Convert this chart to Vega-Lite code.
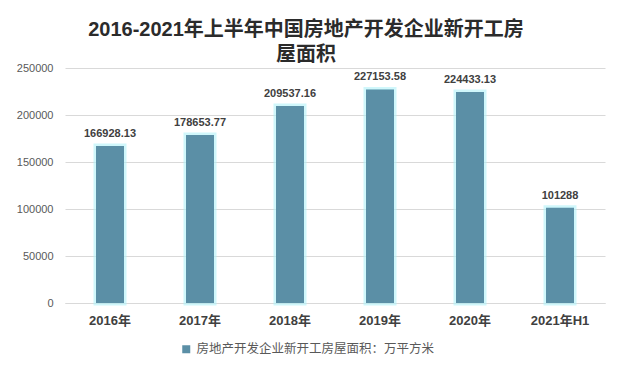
{
  "$schema": "https://vega.github.io/schema/vega-lite/v6.json",
  "autosize": {"type": "none"},
  "width": 540,
  "height": 235,
  "padding": {"left": 65, "top": 68, "right": 13, "bottom": 69},
  "background": "white",
  "config": {
    "font": "Liberation Sans, Noto Sans CJK SC",
    "view": {"stroke": null}
  },
  "title": {
    "text": ["2016-2021年上半年中国房地产开发企业新开工房", "屋面积"],
    "fontSize": 20,
    "fontWeight": "bold",
    "lineHeight": 25,
    "color": "#2b2b2b",
    "font": "Liberation Sans, Noto Sans CJK SC",
    "anchor": "middle",
    "dx": -29,
    "offset": -3
  },
  "data": {
    "values": [
      {"year": "2016年", "value": 166928.13, "label": "166928.13", "series": "房地产开发企业新开工房屋面积：万平方米"},
      {"year": "2017年", "value": 178653.77, "label": "178653.77", "series": "房地产开发企业新开工房屋面积：万平方米"},
      {"year": "2018年", "value": 209537.16, "label": "209537.16", "series": "房地产开发企业新开工房屋面积：万平方米"},
      {"year": "2019年", "value": 227153.58, "label": "227153.58", "series": "房地产开发企业新开工房屋面积：万平方米"},
      {"year": "2020年", "value": 224433.13, "label": "224433.13", "series": "房地产开发企业新开工房屋面积：万平方米"},
      {"year": "2021年H1", "value": 101288, "label": "101288", "series": "房地产开发企业新开工房屋面积：万平方米"}
    ]
  },
  "encoding": {
    "x": {
      "field": "year",
      "type": "nominal",
      "sort": null,
      "scale": {"paddingInner": 0.69, "paddingOuter": 0.345},
      "axis": {
        "title": null,
        "labelAngle": 0,
        "labelFontSize": 13,
        "labelFontWeight": "bold",
        "labelColor": "#404040",
        "labelPadding": 11,
        "ticks": false,
        "domain": true,
        "domainColor": "#d9d9d9",
        "domainWidth": 1
      }
    },
    "y": {
      "field": "value",
      "type": "quantitative",
      "scale": {"domain": [0, 250000], "nice": false},
      "axis": {
        "title": null,
        "values": [0, 50000, 100000, 150000, 200000, 250000],
        "format": "d",
        "labelFontSize": 11,
        "labelColor": "#595959",
        "labelPadding": 12,
        "ticks": false,
        "domain": false,
        "grid": true,
        "gridColor": "#d9d9d9",
        "gridWidth": 1
      }
    }
  },
  "layer": [
    {
      "mark": {"type": "bar", "size": 28, "fill": "#c4f6fb", "stroke": "#b0f1f9", "strokeWidth": 5, "strokeOpacity": 0.6}
    },
    {
      "mark": {"type": "bar", "size": 28},
      "encoding": {
        "color": {
          "field": "series",
          "type": "nominal",
          "scale": {"range": ["#5b8fa6"]},
          "legend": {
            "title": null,
            "orient": "none",
            "legendX": 115,
            "legendY": 275,
            "direction": "horizontal",
            "symbolType": "square",
            "symbolSize": 64,
            "symbolStrokeWidth": 0,
            "labelFontSize": 12.5,
            "labelColor": "#595959",
            "labelLimit": 400
          }
        }
      }
    },
    {
      "mark": {"type": "text", "baseline": "bottom", "dy": -7, "fontSize": 11, "fontWeight": "bold", "color": "#404040"},
      "encoding": {"text": {"field": "label"}}
    }
  ]
}
